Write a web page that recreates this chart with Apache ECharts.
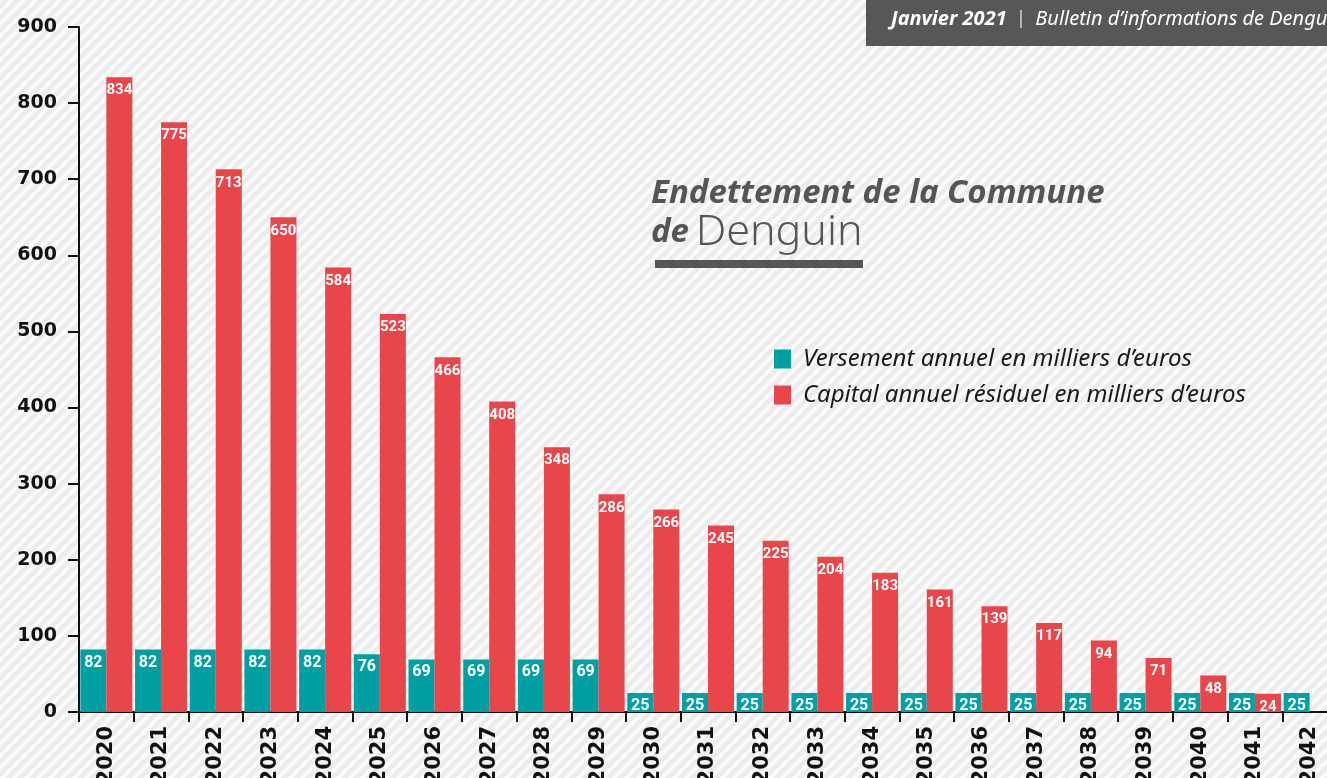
<!DOCTYPE html>
<html>
<head>
<meta charset="utf-8">
<script src="https://cdn.jsdelivr.net/npm/echarts@6/dist/echarts.min.js"></script>
<style>
  html, body { margin: 0; padding: 0; }
  #chart { width: 1327px; height: 778px; }
</style>
</head>
<body>
<div id="chart"></div>
<script>
// annees
var years = ['2020','2021','2022','2023','2024','2025','2026','2027','2028','2029','2030','2031',
  '2032','2033','2034','2035','2036','2037','2038','2039','2040','2041','2042'];
// versement annuel (milliers d'euros)
var versement = [82,82,82,82,82,76,69,69,69,69,25,25,25,25,25,25,25,25,25,25,25,25,25];
// capital annuel residuel (milliers d'euros)
var capital = [834,775,713,650,584,523,466,408,348,286,266,245,225,204,183,161,139,117,94,71,48,24,null];
var yTicks = [0,100,200,300,400,500,600,700,800,900];

var TEAL = '#00a0a2';
var RED = '#e8464a';
var GREY = '#555555';

// fond hachuré
function makeStripes(){
  var c = document.createElement('canvas');
  c.width = 12; c.height = 12;
  var ctx = c.getContext('2d');
  ctx.fillStyle = '#ececec';
  ctx.fillRect(0, 0, 12, 12);
  ctx.strokeStyle = '#fbfbfb';
  ctx.lineWidth = 4;
  ctx.beginPath();
  ctx.moveTo(-3, 3); ctx.lineTo(3, -3);
  ctx.moveTo(-3, 15); ctx.lineTo(15, -3);
  ctx.moveTo(9, 15); ctx.lineTo(15, 9);
  ctx.stroke();
  return c;
}

window.onload = function(){
  var chart = echarts.init(document.getElementById('chart'));
  var option = {
    backgroundColor: { image: makeStripes(), repeat: 'repeat' },
    animation: false,
    grid: { left: 79, top: 27, bottom: 66, width: 1258, outerBoundsMode: 'none', containLabel: false },
    legend: {
      orient: 'vertical',
      left: 769, top: 342,
      itemWidth: 17, itemHeight: 19, itemGap: 12,
      icon: 'rect',
      textStyle: { fontFamily: 'Noto Sans', fontStyle: 'italic', fontSize: 24, color: '#1a1a1a', padding: [0, 0, 0, 7] },
      data: ['Versement annuel en milliers d\u2019euros', 'Capital annuel r\u00e9siduel en milliers d\u2019euros']
    },
    xAxis: {
      type: 'category',
      data: years,
      axisLine: { lineStyle: { color: '#111', width: 2 } },
      axisTick: { show: true, length: 10, lineStyle: { color: '#111', width: 2 } },
      axisLabel: {
        rotate: 90, interval: 0, margin: 14, padding: [9, 0, 0, 0],
        fontFamily: 'DejaVu Sans', fontWeight: 'bold', fontSize: 21, color: '#111'
      }
    },
    yAxis: {
      type: 'value',
      min: yTicks[0], max: yTicks[yTicks.length - 1], interval: 100,
      splitLine: { show: false },
      axisLine: { show: true, lineStyle: { color: '#111', width: 2 } },
      axisTick: { show: true, length: 11, lineStyle: { color: '#111', width: 2 } },
      axisLabel: { margin: 22, fontFamily: 'DejaVu Sans', fontWeight: 'bold', fontSize: 19, color: '#111' }
    },
    series: [
      {
        name: 'Versement annuel en milliers d\u2019euros',
        type: 'bar',
        barWidth: 26,
        barGap: '0%',
        itemStyle: { color: TEAL },
        label: {
          show: true, position: 'insideTop', distance: 5,
          color: '#fff', fontFamily: 'Roboto', fontWeight: 'bold', fontSize: 16
        },
        data: versement
      },
      {
        name: 'Capital annuel r\u00e9siduel en milliers d\u2019euros',
        type: 'bar',
        barWidth: 26,
        barGap: '0%',
        itemStyle: { color: RED },
        label: {
          show: true, position: 'insideTop', distance: 6,
          color: '#fff', fontFamily: 'Roboto', fontWeight: 'bold', fontSize: 15
        },
        data: capital
      }
    ],
    graphic: [
      { type: 'rect', left: 866, top: 0, shape: { width: 470, height: 46 }, style: { fill: '#575757' } },
      {
        type: 'text', left: 891, top: 9,
        style: {
          text: '{b|Janvier 2021}{s|  |  }{i|Bulletin d\u2019informations de Denguin}',
          rich: {
            b: { fontFamily: 'Noto Sans', fontWeight: 'bold', fontStyle: 'italic', fontSize: 20, fill: '#fff' },
            s: { fontFamily: 'Noto Sans', fontSize: 18, fill: '#ddd' },
            i: { fontFamily: 'Noto Sans', fontStyle: 'italic', fontSize: 20, fill: '#fff' }
          }
        }
      },
      {
        type: 'text', left: 651, top: 177,
        style: { text: 'Endettement de la Commune', fontFamily: 'Noto Sans', fontWeight: 'bold', fontStyle: 'italic', fontSize: 33, fill: GREY }
      },
      {
        type: 'text', left: 651, top: 211,
        style: {
          text: '{a|de}  {b|Denguin}',
          rich: {
            a: { fontFamily: 'Noto Sans', fontWeight: 'bold', fontStyle: 'italic', fontSize: 33, fill: GREY },
            b: { fontFamily: 'Noto Sans', fontWeight: 300, fontSize: 43, fill: GREY }
          }
        }
      },
      { type: 'rect', left: 655, top: 260, shape: { width: 208, height: 8 }, style: { fill: GREY } }
    ]
  };
  chart.setOption(option);
};
</script>
</body>
</html>
